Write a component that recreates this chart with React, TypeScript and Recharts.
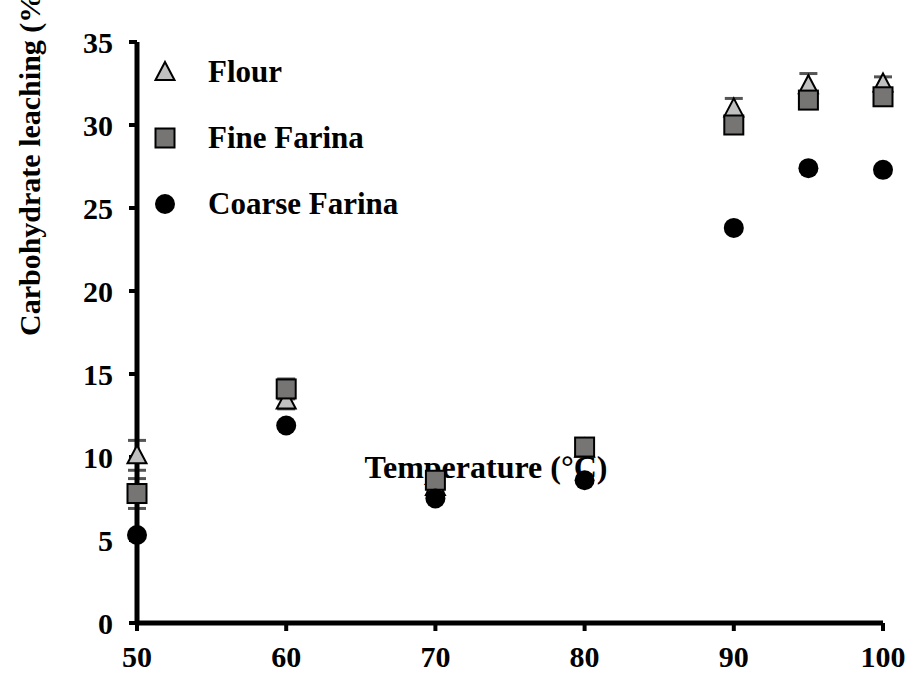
import React from 'react';
import {
  ScatterChart,
  Scatter,
  XAxis,
  YAxis,
  ErrorBar,
} from 'recharts';

const temps = [50, 60, 70, 80, 90, 95, 100];
const flour = [10.1, 13.4, 8.2, 10.5, 31.0, 32.4, 32.5];
const flourErr = [0.9, 0.5, 0.3, 0.4, 0.6, 0.7, 0.4];
const fineFarina = [7.8, 14.1, 8.6, 10.6, 30.0, 31.5, 31.7];
const fineErr = [0.9, 0.6, 0.3, 0.4, 0.3, 0.3, 0.3];
const coarseFarina = [5.3, 11.9, 7.5, 8.6, 23.8, 27.4, 27.3];
const xTicks = [50, 60, 70, 80, 90, 100];
const yTicks = [0, 5, 10, 15, 20, 25, 30, 35];
const seriesNames = ['Flour', 'Fine Farina', 'Coarse Farina'];

const FONT = '"Liberation Serif", "Times New Roman", serif';

const toRows = (vals: number[], errs?: number[]) =>
  temps.map((t, i) => ({ x: t, y: vals[i], err: errs ? errs[i] : 0 }));

const flourData = toRows(flour, flourErr);
const fineData = toRows(fineFarina, fineErr);
const coarseData = toRows(coarseFarina);

const Triangle = ({ cx, cy }: any) => (
  <polygon
    points={`${cx},${cy - 10} ${cx + 9.5},${cy + 8} ${cx - 9.5},${cy + 8}`}
    fill="#c0c0c0"
    stroke="#000"
    strokeWidth={2}
  />
);

const Square = ({ cx, cy }: any) => (
  <rect x={cx - 9.5} y={cy - 9.5} width={19} height={19} fill="#777474" stroke="#000" strokeWidth={2} />
);

const Dot = ({ cx, cy }: any) => <circle cx={cx} cy={cy} r={10} fill="#000" />;

const legendShapes = [Triangle, Square, Dot];

const tickStyle = { fill: '#000', fontSize: 30, fontWeight: 'bold', fontFamily: FONT };

export default function App() {
  return (
    <div style={{ position: 'absolute', left: 0, top: 0, background: '#fff' }}>
      <ScatterChart width={912} height={681} margin={{ top: 42, right: 29, bottom: 8, left: 57 }}>
        <XAxis
          type="number"
          dataKey="x"
          domain={[50, 100]}
          ticks={xTicks}
          height={50}
          axisLine={{ stroke: '#000', strokeWidth: 5 }}
          tickLine={{ stroke: '#000', strokeWidth: 4 }}
          tickSize={8}
          tickMargin={15}
          tick={tickStyle}
        />
        <YAxis
          type="number"
          dataKey="y"
          domain={[0, 35]}
          ticks={yTicks}
          width={80}
          axisLine={{ stroke: '#000', strokeWidth: 5 }}
          tickLine={{ stroke: '#000', strokeWidth: 4 }}
          tickSize={8}
          tickMargin={16}
          tick={tickStyle}
        />
        <Scatter name="Flour" data={flourData} shape={<Triangle />} isAnimationActive={false}>
          <ErrorBar dataKey="err" direction="y" width={9} stroke="#555" strokeWidth={3} />
        </Scatter>
        <Scatter name="Fine Farina" data={fineData} shape={<Square />} isAnimationActive={false}>
          <ErrorBar dataKey="err" direction="y" width={9} stroke="#555" strokeWidth={3} />
        </Scatter>
        <text x={486} y={478} textAnchor="middle" fontFamily={FONT} fontWeight="bold" fontSize={32} fill="#000">
          Temperature (°C)
        </text>
        <Scatter name="Coarse Farina" data={coarseData} shape={<Dot />} isAnimationActive={false} />
        {seriesNames.map((name, i) => {
          const Shape = legendShapes[i];
          const cy = 72 + i * 66;
          return (
            <g key={name}>
              <Shape cx={165} cy={cy} />
              <text x={208} y={cy + 10} fontFamily={FONT} fontWeight="bold" fontSize={31} fill="#000">
                {name}
              </text>
            </g>
          );
        })}
        <text
          x={0}
          y={0}
          transform="translate(40, 336) rotate(-90)"
          textAnchor="start"
          fontFamily={FONT}
          fontWeight="bold"
          fontSize={30}
          fill="#000"
        >
          Carbohydrate leaching (%)
        </text>
      </ScatterChart>
    </div>
  );
}
